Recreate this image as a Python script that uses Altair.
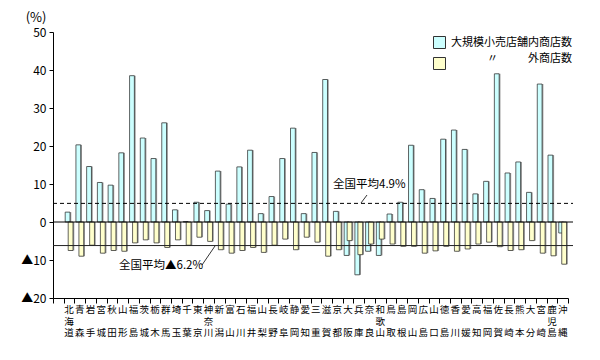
import altair as alt
import pandas as pd

# ---- data ----
prefs = ["北海道", "青森", "岩手", "宮城", "秋田", "山形", "福島", "茨城", "栃木", "群馬",
         "埼玉", "千葉", "東京", "神奈川", "新潟", "富山", "石川", "福井", "山梨", "長野",
         "岐阜", "静岡", "愛知", "三重", "滋賀", "京都", "大阪", "兵庫", "奈良", "和歌山",
         "鳥取", "島根", "岡山", "広島", "山口", "徳島", "香川", "愛媛", "高知", "福岡",
         "佐賀", "長崎", "熊本", "大分", "宮崎", "鹿児島", "沖縄"]

inside = [2.6, 20.3, 14.6, 10.4, 9.7, 18.2, 38.5, 22.1, 16.7, 26.1,
          3.2, 0.1, 5.2, 3.0, 13.4, 4.7, 14.5, 18.9, 2.2, 6.7,
          16.7, 24.7, 2.2, 18.3, 37.5, 2.8, -8.8, -13.9, -7.7, -8.8,
          2.1, 5.2, 20.2, 8.5, 6.2, 21.8, 24.2, 19.1, 7.4, 10.7,
          39.0, 12.9, 15.8, 7.8, 36.3, 17.6, -2.9]

outside = [-7.5, -9.0, -6.1, -8.2, -7.5, -7.7, -5.5, -4.7, -5.5, -6.7,
           -4.7, -6.1, -4.0, -5.1, -7.3, -8.2, -7.5, -6.7, -8.0, -6.1,
           -4.5, -7.3, -4.0, -5.3, -9.0, -7.3, -4.9, -8.6, -5.8, -4.5,
           -5.8, -6.4, -6.4, -8.2, -7.6, -6.4, -7.7, -7.1, -5.8, -5.3,
           -6.5, -7.5, -7.3, -4.9, -8.2, -8.9, -11.1]

series_names = ["大規模小売店舗内商店数", "〃外商店数"]
series_colors = ["#ccffff", "#ffffcc"]

avg_inside = 4.9
avg_outside = -6.2

y_ticks = [-20, -10, 0, 10, 20, 30, 40, 50]

FONT = "Noto Sans CJK JP"
W, H = 515, 266

rows = []
for p, a, b in zip(prefs, inside, outside):
    rows.append({"pref": p, "series": series_names[0], "value": a})
    rows.append({"pref": p, "series": series_names[1], "value": b})
df = pd.DataFrame(rows)

# label lines (top / middle / bottom character of each name)
lab = pd.DataFrame({
    "pref": prefs,
    "l1": [p[0] for p in prefs],
    "l2": [p[1] if len(p) == 3 else "" for p in prefs],
    "l3": [p[-1] for p in prefs],
})

x_domain = [" "] + prefs
x_scale = alt.Scale(domain=x_domain, paddingInner=0, paddingOuter=0)
y_scale = alt.Scale(domain=[-20, 50], nice=False, zero=False)

x_axis = alt.Axis(title=None, labels=False, tickBand="extent", tickSize=5,
                  tickColor="#000", domainColor="#000")
y_axis = alt.Axis(title="(%)", titleAngle=0, titleX=-17.5, titleY=-15,
                  titleAlign="center", titleBaseline="middle",
                  titleFontWeight="normal", titleFontSize=13, titleFont=FONT,
                  values=y_ticks, tickCount=8, grid=False, tickSize=4, tickColor="#000",
                  domainColor="#000", labelFontSize=12, labelFont=FONT,
                  labelColor="#000", labelPadding=3, labelOverlap=False,
                  labelFlush=False,
                  labelExpr="datum.value < 0 ? '▲' + (-datum.value) : datum.value")

x_enc = alt.X("pref:N", sort=x_domain, scale=x_scale, axis=x_axis)
y_enc = alt.Y("value:Q", scale=y_scale, axis=y_axis)
color_enc = alt.Color("series:N",
                      scale=alt.Scale(domain=series_names, range=series_colors),
                      legend=alt.Legend(title=None, orient="none", legendX=380, legendY=4,
                                        symbolType="square", symbolSize=144,
                                        symbolStrokeColor="#333", symbolStrokeWidth=1,
                                        labelFont=FONT, labelFontSize=11, labelColor="#000",
                                        labelExpr="datum.label == '大規模小売店舗内商店数' ? datum.label : ''",
                                        rowPadding=4, padding=0, labelOffset=5))

base = alt.Chart(df)

cyan = base.transform_filter(alt.datum.series == series_names[0])
yellow = base.transform_filter(alt.datum.series == series_names[1])

cyan_shadow = cyan.mark_bar(width=4.8, xOffset=-0.2, color="#9a9a9a").encode(x=x_enc, y=y_enc)
cyan_bar = cyan.mark_bar(width=4.8, xOffset=-1.5, stroke="#222", strokeWidth=0.7).encode(
    x=x_enc, y=y_enc, color=color_enc)
yellow_shadow = yellow.mark_bar(width=4.8, xOffset=2.8, color="#9a9a9a").encode(x=x_enc, y=y_enc)
yellow_bar = yellow.mark_bar(width=4.8, xOffset=1.5, stroke="#222", strokeWidth=0.7).encode(
    x=x_enc, y=y_enc, color=color_enc)

def hline(v, **kw):
    return alt.Chart(pd.DataFrame({"value": [v]})).mark_rule(**kw).encode(
        y=y_enc, x=alt.value(0), x2=alt.value(W + 5))

dashed = hline(avg_inside, color="#000", strokeWidth=1, strokeDash=[4, 3])
zero = hline(0, color="#000", strokeWidth=1)
avg_low = hline(avg_outside, color="#222", strokeWidth=1)

labels = []
for i, col in enumerate(["l1", "l2", "l3"]):
    labels.append(alt.Chart(lab).mark_text(font=FONT, fontSize=9.5, baseline="top",
                                           align="center", color="#000").encode(
        x=x_enc, text=f"{col}:N", y=alt.value(H + 7 + 11.5 * i)))

# second legend entry text: "〃" and "外商店数"
leg2a = alt.Chart(pd.DataFrame({"t": ["〃"]})).mark_text(
    font=FONT, fontSize=11, align="left", baseline="middle", color="#000").encode(
    text="t:N", x=alt.value(434), y=alt.value(26.5))
leg2b = alt.Chart(pd.DataFrame({"t": ["外商店数"]})).mark_text(
    font=FONT, fontSize=11, align="left", baseline="middle", color="#000").encode(
    text="t:N", x=alt.value(475), y=alt.value(26.5))

ann1 = alt.Chart(pd.DataFrame({"t": ["全国平均4.9%"]})).mark_text(
    font=FONT, fontSize=11.5, align="left", baseline="middle", color="#000").encode(
    text="t:N", x=alt.value(280), y=alt.value(153))
ann2 = alt.Chart(pd.DataFrame({"t": ["全国平均▲6.2%"]})).mark_text(
    font=FONT, fontSize=11.5, align="left", baseline="middle", color="#000").encode(
    text="t:N", x=alt.value(66), y=alt.value(234))
lead1 = alt.Chart(pd.DataFrame({"t": ["a"]})).mark_rule(color="#000", strokeWidth=0.8).encode(
    x=alt.value(308), x2=alt.value(314), y=alt.value(171), y2=alt.value(163))
lead2 = alt.Chart(pd.DataFrame({"t": ["b"]})).mark_rule(color="#000", strokeWidth=0.8).encode(
    x=alt.value(149), x2=alt.value(162), y=alt.value(233), y2=alt.value(214))

chart = alt.layer(
    cyan_shadow, cyan_bar, yellow_shadow, yellow_bar, zero, dashed, avg_low, *labels,
    leg2a, leg2b, ann1, ann2, lead1, lead2
).properties(
    width=W, height=H,
    autosize=alt.AutoSizeParams(type="none"),
    padding={"left": 45, "top": 24, "right": 24, "bottom": 40},
).configure(font=FONT).configure_view(stroke=None)

chart.save("out.html", embed_options={"renderer": "svg", "actions": False})
